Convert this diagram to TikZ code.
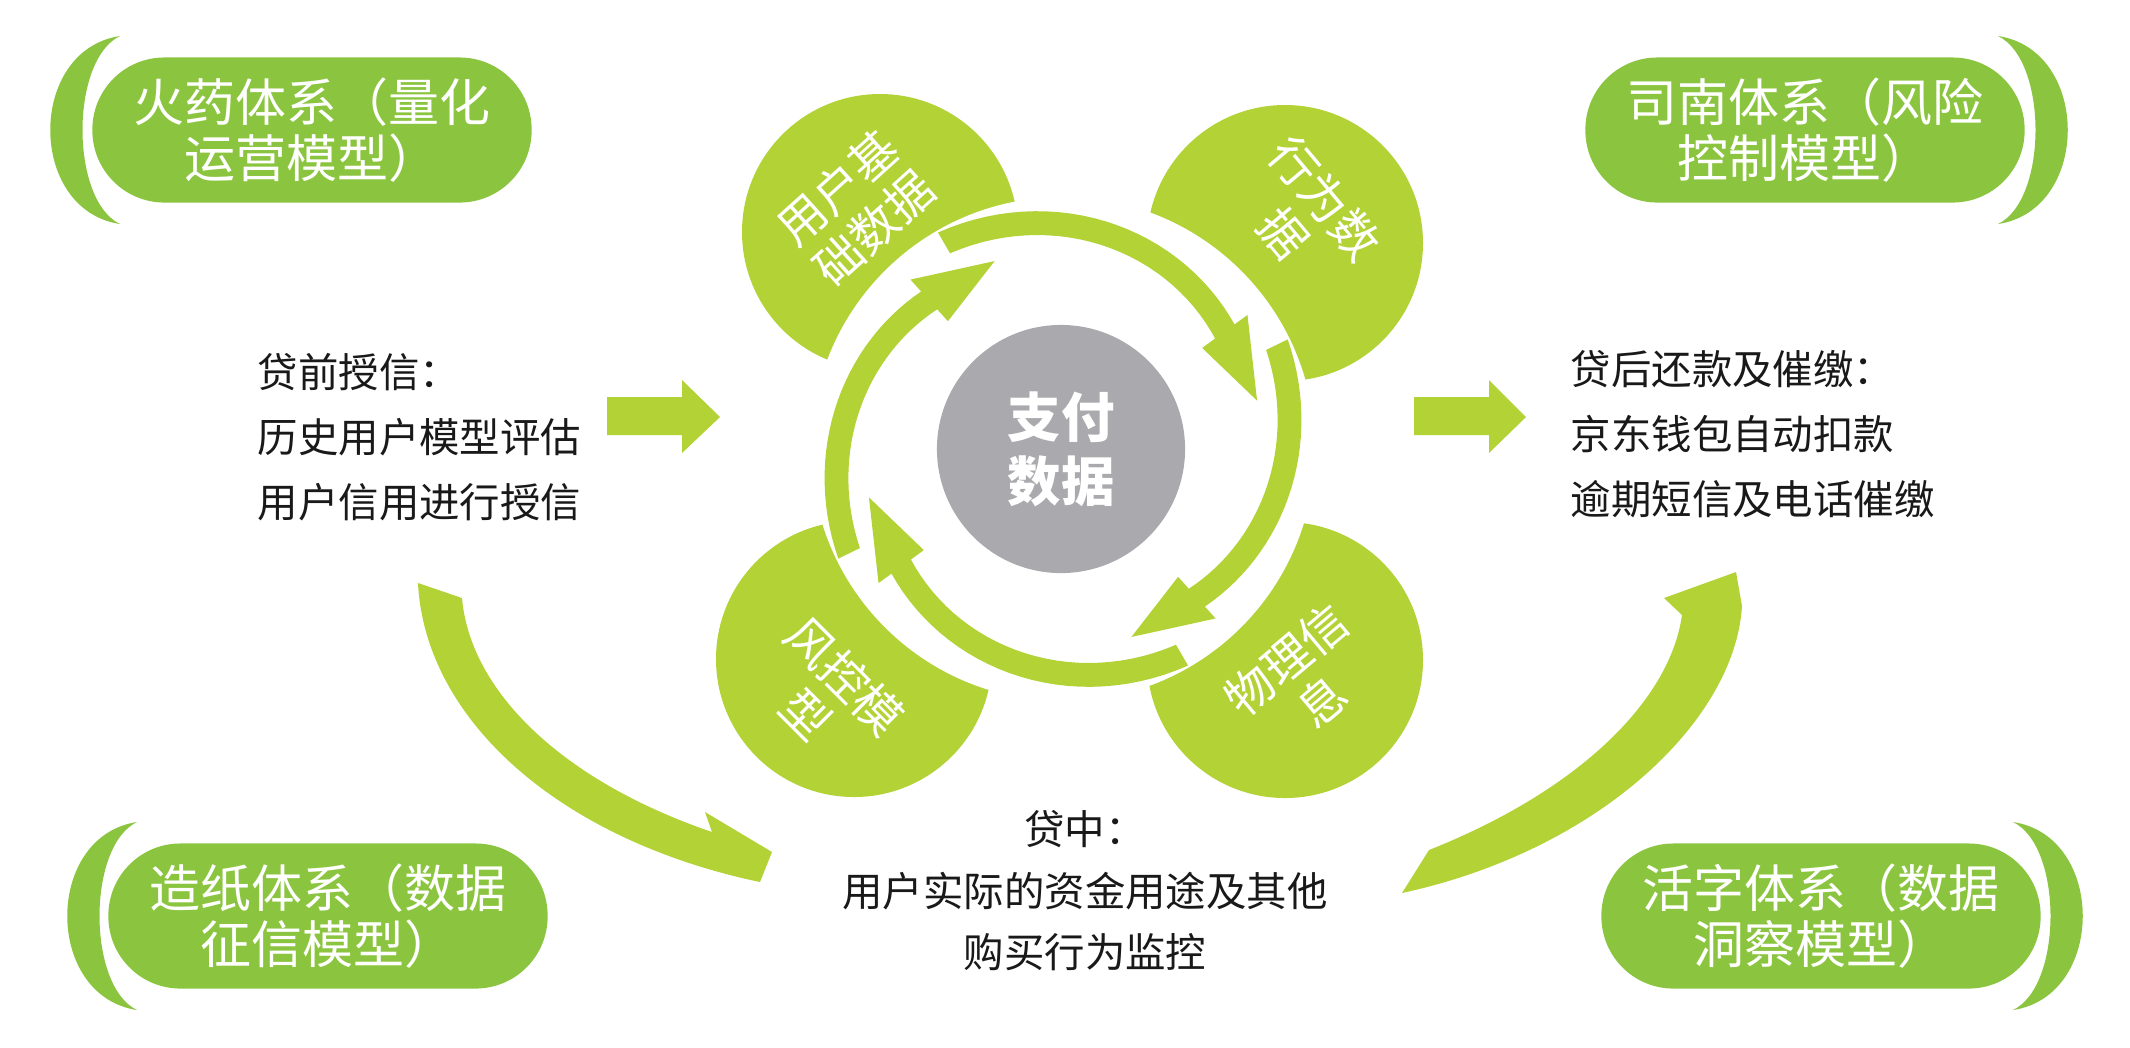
\documentclass[tikz,border=0pt]{standalone}
\usepackage{fontspec}
\newfontfamily\cjk{Noto Sans CJK SC}
\usetikzlibrary{positioning}

\definecolor{pillgreen}{RGB}{139,197,63}
\definecolor{leaf}{RGB}{178,210,53}
\definecolor{hubgrey}{RGB}{170,169,173}

\tikzset{
    pill/.style={fill=pillgreen, rounded corners=0.72cm, minimum width=4.39cm, minimum height=1.45cm,
        inner sep=0pt, align=center, text=white, font=\cjk\fontsize{14.5}{16}\selectfont},
    petal/.style={inner sep=0pt, align=center, text=white, font=\cjk\fontsize{13.5}{15.5}\selectfont},
    stage/.style={inner sep=0pt, text=black!90, font=\cjk\fontsize{11.5}{18.4}\selectfont},
}

% one arrow of the ring: start angle, head base angle, tip angle
\newcommand{\ringarrow}[3]{%
    \fill[leaf] plot[domain=#1:#2, samples=30] (\x:{250-38*(\x-(#1))/((#2)-(#1))})
        -- (#2:228) -- (#3:200) -- (#2:172)
        -- plot[domain=#2:#1, samples=30] (\x:{226-38*(\x-(#1))/((#2)-(#1))}) -- cycle;}

\begin{document}
\begin{tikzpicture}[x=0.01cm, y=0.01cm]

    \useasboundingbox (0,0) rectangle (2130,-1047);
    \fill[white] (0,0) rectangle (2130,-1047);

    \node[pill] (huoyao) at (312,-130) {火药体系（量化\\运营模型）};
    \node[pill] (sinan) at (1805,-130) {司南体系（风险\\控制模型）};
    \node[pill] (zaozhi) at (328,-916) {造纸体系（数据\\征信模型）};
    \node[pill] (huozi) at (1821,-916) {活字体系（数据\\洞察模型）};

    \fill[pillgreen] (120,-36) .. controls (27,-50) and (27,-210) .. (120,-224)
        .. controls (70,-200) and (70,-60) .. (120,-36) -- cycle;
    \fill[pillgreen] (1998,-36) .. controls (2091,-50) and (2091,-210) .. (1998,-224)
        .. controls (2048,-200) and (2048,-60) .. (1998,-36) -- cycle;
    \fill[pillgreen] (137,-822) .. controls (44,-836) and (44,-996) .. (137,-1010)
        .. controls (87,-986) and (87,-846) .. (137,-822) -- cycle;
    \fill[pillgreen] (2013,-822) .. controls (2106,-836) and (2106,-996) .. (2013,-1010)
        .. controls (2063,-986) and (2063,-846) .. (2013,-822) -- cycle;

    \fill[leaf] (880,-232) circle (138);
    \fill[leaf] (1285,-243) circle (138);
    \fill[leaf] (854,-659) circle (138);
    \fill[leaf] (1285,-660) circle (138);
    \fill[white] (1063,-449) circle (252);

    \begin{scope}[shift={(1063,-449)}]
        \ringarrow{120}{36}{14}
        \ringarrow{26}{-48}{-70}
        \ringarrow{-60}{-144}{-166}
        \ringarrow{206}{132}{110}
    \end{scope}

    \node[circle, fill=hubgrey, minimum size=2.48cm, inner sep=0pt, align=center, text=white,
        font=\cjk\bfseries\fontsize{15.2}{18.2}\selectfont] (zhifu) at (1061,-449) {支付\\数据};

    \node[petal, rotate=42] (yonghu) at (856,-208) {用户基\\础数据};
    \node[petal, rotate=-50] (xingwei) at (1304,-216) {行为数\\据};
    \node[petal, rotate=-45] (fengkong) at (826,-695) {风控模\\型};
    \node[petal, rotate=40] (wuli) at (1304,-680) {物理信\\息};

    \fill[leaf] (607,-397) -- (682,-397) -- (682,-380) -- (720,-417) -- (682,-453) -- (682,-435) -- (607,-435) -- cycle;
    \fill[leaf] (1414,-397) -- (1489,-397) -- (1489,-380) -- (1526,-417) -- (1489,-453) -- (1489,-435) -- (1414,-435) -- cycle;

    \fill[leaf] (418,-583) .. controls (425,-720) and (560,-840) .. (760,-882) -- (772,-852) -- (705,-812) -- (712,-832)
        .. controls (560,-780) and (470,-690) .. (462,-598) -- cycle;
    \fill[leaf] (1402,-893) .. controls (1600,-850) and (1735,-720) .. (1742,-606) -- (1736,-572) -- (1664,-598) -- (1682,-615)
        .. controls (1670,-700) and (1580,-790) .. (1429,-850) -- cycle;

    \node[stage, align=left, anchor=west] (daiqian) at (257,-437) {贷前授信：\\历史用户模型评估\\用户信用进行授信};
    \node[stage, align=left, anchor=west] (daihou) at (1570,-434) {贷后还款及催缴：\\京东钱包自动扣款\\逾期短信及电话催缴};
    \node[stage, align=center, font=\cjk\fontsize{11.5}{17.5}\selectfont] (daizhong) at (1085,-891) {贷中：\\用户实际的资金用途及其他\\购买行为监控};

\end{tikzpicture}
\end{document}
